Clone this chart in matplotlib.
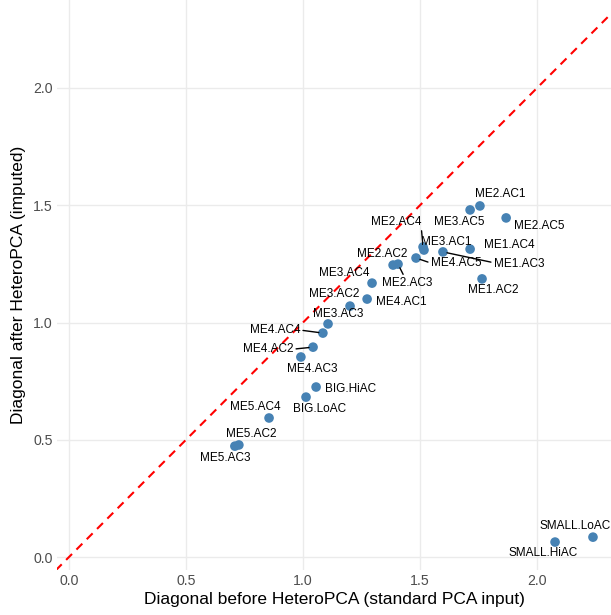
import matplotlib
matplotlib.use("Agg")
import numpy as np
from matplotlib import pyplot as plt

plt.rcParams['font.family'] = ['Liberation Sans', 'DejaVu Sans']

# diagonal values per sample group
groups = ["ME2.AC1", "ME3.AC5", "ME2.AC5", "ME1.AC4", "ME2.AC4", "ME3.AC1",
          "ME4.AC5", "ME1.AC3", "ME1.AC2", "ME2.AC2", "ME2.AC3", "ME3.AC4",
          "ME4.AC1", "ME3.AC2", "ME3.AC3", "ME4.AC4", "ME4.AC2", "ME4.AC3",
          "BIG.HiAC", "BIG.LoAC", "ME5.AC4", "ME5.AC2", "ME5.AC3",
          "SMALL.HiAC", "SMALL.LoAC"]
before = [1.756, 1.714, 1.868, 1.714, 1.513, 1.517,
          1.483, 1.598, 1.765, 1.385, 1.406, 1.295,
          1.274, 1.201, 1.107, 1.085, 1.043, 0.991,
          1.056, 1.013, 0.855, 0.726, 0.709,
          2.077, 2.239]
after = [1.497, 1.480, 1.446, 1.313, 1.322, 1.309,
         1.275, 1.301, 1.186, 1.245, 1.249, 1.168,
         1.100, 1.070, 0.994, 0.955, 0.895, 0.853,
         0.725, 0.682, 0.593, 0.478, 0.473,
         0.064, 0.085]

# where the repelled labels ended up (pixels from the point)
label_offsets = {
    "ME2.AC1": (20, 12), "ME3.AC5": (-11, -12), "ME2.AC5": (33, -8),
    "ME1.AC4": (39, 4), "ME2.AC4": (-27, 25), "ME3.AC1": (22, 8),
    "ME4.AC5": (40, -5), "ME1.AC3": (76, -12), "ME1.AC2": (11, -11),
    "ME2.AC2": (-11, 11), "ME2.AC3": (9, -19), "ME3.AC4": (-28, 10),
    "ME4.AC1": (34, -3), "ME3.AC2": (-16, 12), "ME3.AC3": (10, 10),
    "ME4.AC4": (-48, 3), "ME4.AC2": (-45, -2), "ME4.AC3": (11, -12),
    "BIG.HiAC": (34, -2), "BIG.LoAC": (14, -12), "ME5.AC4": (-14, 11),
    "ME5.AC2": (12, 11), "ME5.AC3": (-10, -12), "SMALL.HiAC": (-12, -11),
    "SMALL.LoAC": (-18, 11),
}
# labels joined to their point by a segment, and where on the label it starts
segment_start = {"ME2.AC4": (1.0, 0.0), "ME4.AC5": (0.0, 0.5), "ME1.AC3": (0.0, 0.6),
                 "ME2.AC3": (0.45, 1.0), "ME4.AC4": (1.0, 0.5), "ME4.AC2": (1.0, 0.5)}

fig = plt.figure(figsize=(6.11, 6.15), dpi=100)
ax = fig.add_axes([0.0933, 0.0732, 0.9067, 0.9268])

ax.set_xlim(-0.051, 2.316)
ax.set_ylim(-0.055, 2.375)

lims = np.array([-0.1, 2.5])
ax.plot(lims, lims, color="red", lw=1.5, dashes=(4, 3), zorder=2)

ax.scatter(before, after, s=48, color="steelblue", edgecolors="none", zorder=3)

for g, x, y in zip(groups, before, after):
    dx, dy = label_offsets[g]
    props = None
    if g in segment_start:
        props = dict(arrowstyle="-", color="black", lw=1.0, shrinkA=0, shrinkB=3,
                     relpos=segment_start[g])
    ax.annotate(g, (x, y), xytext=(dx, dy), textcoords="offset pixels",
                ha="center", va="center", fontsize=8.5, color="black",
                arrowprops=props, zorder=4)

ax.set_xticks([0.0, 0.5, 1.0, 1.5, 2.0])
ax.set_yticks([0.0, 0.5, 1.0, 1.5, 2.0])
ax.set_xticklabels(["0.0", "0.5", "1.0", "1.5", "2.0"])
ax.set_yticklabels(["0.0", "0.5", "1.0", "1.5", "2.0"])
ax.tick_params(length=0, labelsize=10.2, labelcolor="#4D4D4D", pad=3)
ax.grid(True, color="#EBEBEB", lw=1.0)
ax.set_axisbelow(True)
for s in ax.spines.values():
    s.set_visible(False)

ax.set_xlabel("Diagonal before HeteroPCA (standard PCA input)", fontsize=12.5, labelpad=3)
ax.set_ylabel("Diagonal after HeteroPCA (imputed)", fontsize=12.5, labelpad=5)

fig.savefig("out.png", dpi=100)
